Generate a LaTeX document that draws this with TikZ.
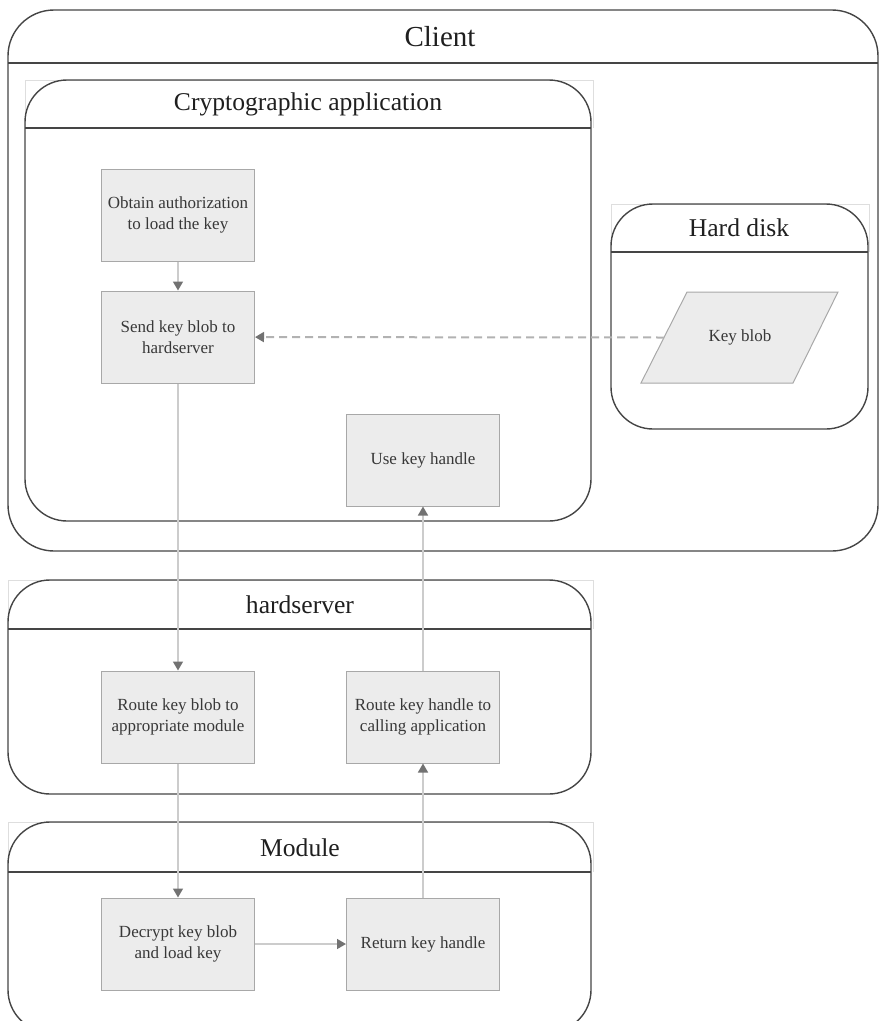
\documentclass[tikz,border=0pt]{standalone}
\usepackage{fontspec}
\setmainfont{Liberation Serif}
\usetikzlibrary{arrows.meta,calc}
\definecolor{laneC}{HTML}{454545}
\definecolor{boxC}{HTML}{A8A8A8}
\definecolor{fillC}{HTML}{ECECEC}
\definecolor{textC}{HTML}{383838}
\definecolor{lineC}{HTML}{CCCCCC}
\definecolor{tipC}{HTML}{727272}
\tikzset{
  lane/.style={draw=laneC,line width=1.4pt,rounded corners=42pt},
  ghost/.style={draw=black!13,line width=0.7pt},
  lanetitle/.style={font=\fontsize{25.6}{30}\selectfont,text=black!88},
  stepbox/.style={draw=boxC,fill=fillC,line width=1pt,minimum width=153pt,minimum height=92pt,
    align=center,text=textC,font=\fontsize{17}{21}\selectfont},
  flow/.style={draw=lineC,line width=1.5pt,-{Triangle[length=9pt,width=10pt,color=tipC]}}
}
\begin{document}
\begin{tikzpicture}[x=1pt,y=-1pt]
   \useasboundingbox (0,0) rectangle (880,1021);
   \draw[ghost] (25,128) -- (25,80) -- (593,80) -- (593,128);
   \draw[ghost] (611,252) -- (611,204) -- (869,204) -- (869,252);
   \draw[ghost] (8,629) -- (8,580) -- (593,580) -- (593,629);
   \draw[ghost] (8,872) -- (8,822) -- (593,822) -- (593,872);
   \draw[lane,rounded corners=46pt] (8,10) rectangle (878,551);
   \draw[lane] (25,80) rectangle (591,521);
   \draw[lane] (611,204) rectangle (868,429);
   \draw[lane] (8,580) rectangle (591,794);
   \draw[lane] (8,822) rectangle (591,1032);
   \draw[laneC,line width=1.4pt] (8,63) -- (878,63) (25,128) -- (591,128) (611,252) -- (868,252)
        (8,629) -- (591,629) (8,872) -- (591,872);
   \node[lanetitle,font=\fontsize{29}{34}\selectfont] (tClient) at (440,37) {Client};
   \node[lanetitle] (tApp) at (308,104) {Cryptographic application};
   \node[lanetitle] (tDisk) at (739,228) {Hard disk};
   \node[lanetitle] (tServer) at (300,605) {hardserver};
   \node[lanetitle] (tModule) at (300,848) {Module};
   \node[stepbox] (obtain) at (178,215) {Obtain authorization\\to load the key};
   \node[stepbox] (send) at (178,337) {Send key blob to\\hardserver};
   \node[stepbox] (use) at (423,460) {Use key handle};
   \node[stepbox] (routeBlob) at (178,717) {Route key blob to\\appropriate module};
   \node[stepbox] (routeHandle) at (423,717) {Route key handle to\\calling application};
   \node[stepbox] (decrypt) at (178,944) {Decrypt key blob\\and load key};
   \node[stepbox] (giveHandle) at (423,944) {Return key handle};
   \draw[draw=boxC,fill=fillC,line width=1pt] (641,383) -- (687,292) -- (838,292) -- (793,383) -- cycle;
   \node[text=textC,font=\fontsize{17}{21}\selectfont] (keyBlob) at (740,337.5) {Key blob};
   \coordinate (blobIn) at (664,337.5);
   \draw[flow] (obtain) -- (send);
   \draw[flow] (send) -- (routeBlob);
   \draw[flow] (routeBlob) -- (decrypt);
   \draw[flow] (decrypt) -- (giveHandle);
   \draw[flow] (giveHandle) -- (routeHandle);
   \draw[flow] (routeHandle) -- (use);
   \draw[flow,draw=black!30,line width=2pt,dash pattern=on 8pt off 5pt] (blobIn) -- (send);
\end{tikzpicture}
\end{document}
